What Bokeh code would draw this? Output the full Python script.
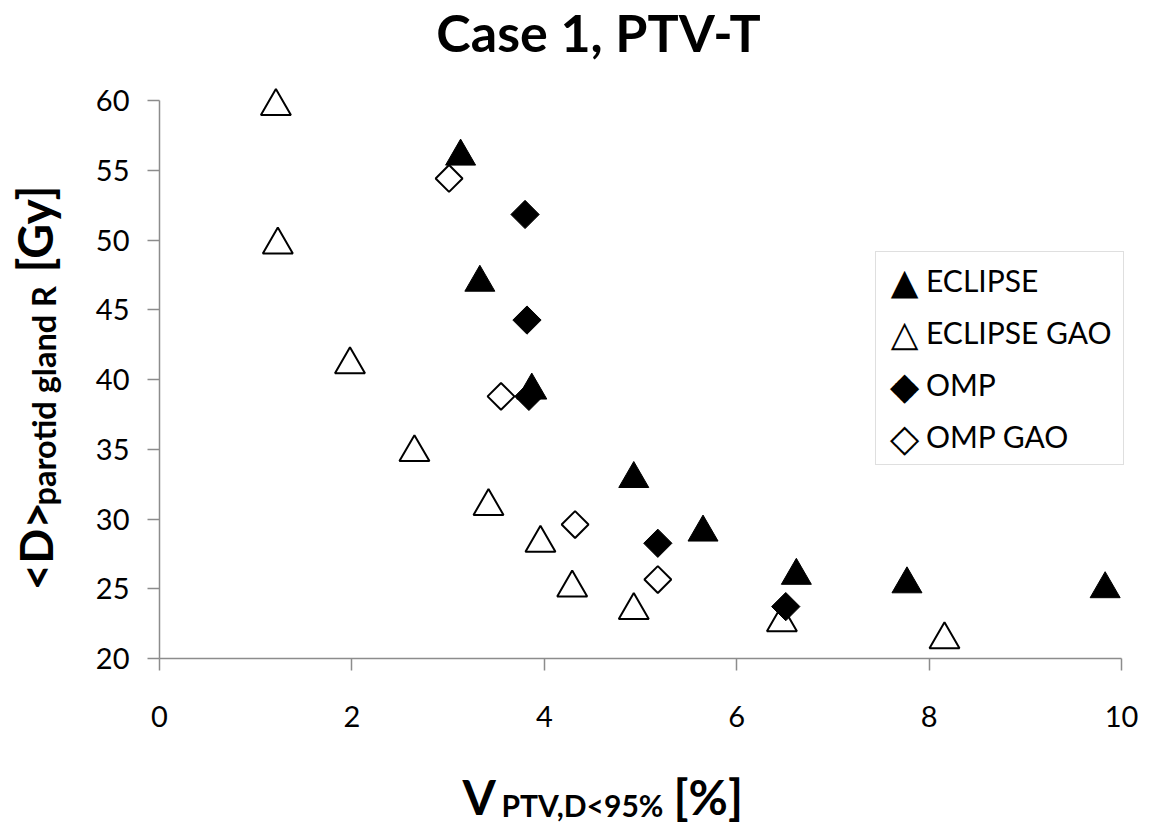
import math
from bokeh.plotting import figure
from bokeh.models import Label, Legend, LegendItem, ColumnDataSource, FixedTicker, Range1d
from bokeh.transform import dodge
from bokeh.embed import file_html
from bokeh.resources import INLINE

# ---- data ----
eclipse_x = [3.13, 3.33, 3.87, 4.93, 5.65, 6.62, 7.77, 9.83]
eclipse_y = [56.3, 47.26, 39.53, 33.19, 29.35, 26.25, 25.64, 25.29]
eclipse_gao_x = [1.21, 1.23, 1.98, 2.65, 3.42, 3.96, 4.29, 4.93, 6.47, 8.16]
eclipse_gao_y = [59.9, 49.96, 41.38, 35.08, 31.22, 28.58, 25.37, 23.76, 22.89, 21.66]
omp_x = [3.80, 3.82, 3.84, 5.18, 6.51]
omp_y = [51.83, 44.26, 38.79, 28.26, 23.72]
omp_gao_x = [3.01, 3.55, 4.32, 5.18]
omp_gao_y = [54.41, 38.79, 29.60, 25.66]

x_ticks = [0, 2, 4, 6, 8, 10]
y_ticks = [20, 25, 30, 35, 40, 45, 50, 55, 60]
series_names = ["ECLIPSE", "ECLIPSE GAO", "OMP", "OMP GAO"]
legend_symbols = ["\u25B2", "\u25B3", "\u25C6", "\u25C7"]

FONT = "Lato"
W, H = 1149, 834
# plot area inside the canvas (pixels): left, right, top, bottom
PL, PR, PT, PB = 159, 1121, 100, 658
XMIN, XMAX, YMIN, YMAX = 0, 10, 20, 60
xs = (PR - PL) / (XMAX - XMIN)
ys = (PB - PT) / (YMAX - YMIN)

p = figure(width=W, height=H, output_backend="svg", toolbar_location=None,
           x_range=Range1d(XMIN - PL / xs, XMAX + (W - PR) / xs),
           y_range=Range1d(YMIN - (H - PB) / ys, YMAX + PT / ys),
           min_border=0, min_border_left=0, min_border_right=0,
           min_border_top=0, min_border_bottom=0)
p.outline_line_color = None
p.xgrid.visible = False
p.ygrid.visible = False
p.background_fill_color = "white"
p.border_fill_color = "white"

xa, ya = p.xaxis[0], p.yaxis[0]
xa.fixed_location = YMIN
ya.fixed_location = XMIN
xa.bounds = (XMIN, XMAX)
ya.bounds = (YMIN, YMAX)
for ax in (xa, ya):
    ax.axis_line_color = "#8c8c8c"
    ax.axis_line_width = 1.5
    ax.major_tick_line_color = "#8c8c8c"
    ax.major_tick_line_width = 1.5
    ax.major_tick_out = 12
    ax.major_tick_in = 0
    ax.minor_tick_line_color = None
    ax.major_label_text_font = FONT
    ax.major_label_text_font_size = "29px"
    ax.major_label_text_color = "black"
xa.ticker = FixedTicker(ticks=x_ticks)
ya.ticker = FixedTicker(ticks=y_ticks)
xa.major_label_standoff = 35
ya.major_label_standoff = 18

# triangles: shift so the bounding box (not the centroid) sits on the value
TRI = 30
tri_shift = -(TRI * math.sqrt(3) / 2 / 6) / ys

src_e = ColumnDataSource(dict(x=eclipse_x, y=eclipse_y))
src_eg = ColumnDataSource(dict(x=eclipse_gao_x, y=eclipse_gao_y))
src_o = ColumnDataSource(dict(x=omp_x, y=omp_y))
src_og = ColumnDataSource(dict(x=omp_gao_x, y=omp_gao_y))

r_e = p.scatter(x="x", y=dodge("y", tri_shift), source=src_e, marker="triangle", size=TRI,
                fill_color="black", line_color="black", line_width=1)
r_eg = p.scatter(x="x", y=dodge("y", tri_shift), source=src_eg, marker="triangle", size=TRI,
                 fill_color="white", line_color="black", line_width=2)
r_o = p.scatter(x="x", y="y", source=src_o, marker="square", angle=math.pi / 4, size=20,
                fill_color="black", line_color="black", line_width=1)
r_og = p.scatter(x="x", y="y", source=src_og, marker="square", angle=math.pi / 4, size=19,
                 fill_color="white", line_color="black", line_width=2)

# legend: box and labels from Legend, swatches drawn as symbol texts
ph = [p.scatter(x=[], y=[], marker="square", fill_alpha=0, line_alpha=0) for _ in series_names]
LEG_L, LEG_T, ROW, PAD, GW = 875, 253, 52, 2, 40
leg = Legend(items=[LegendItem(label=n, renderers=[r]) for n, r in zip(series_names, ph)],
             location=(LEG_L, H - (LEG_T + 2 * PAD + ROW * len(series_names))),
             orientation="vertical",
             glyph_width=GW, glyph_height=ROW, spacing=0, padding=PAD, margin=0,
             label_standoff=8, label_text_font=FONT, label_text_font_size="30px",
             label_height=ROW, label_width=195,
             label_text_color="black", label_text_baseline="middle",
             border_line_color="#bfbfbf", border_line_width=1.5,
             background_fill_alpha=0.0)
p.add_layout(leg, "center")

BL = 0.4  # empirical offset of the rendered alphabetic baseline, in em


def sym(text, cx, cy, fs):
    p.add_layout(Label(text=text, x=cx, y=H - cy, x_units="screen", y_units="screen",
                       text_font="DejaVu Sans", text_font_size=f"{fs}px",
                       text_color="black", text_align="center", text_baseline="middle"))


for i, s in enumerate(legend_symbols):
    sym(s, LEG_L + 29, LEG_T + PAD + ROW * i + ROW / 2, 36 if i < 2 else 38)


# ---- texts ----
def lab(text, x, y, fs, angle=0, align="left"):
    if angle == 0:
        px, py = x, H - (y - BL * fs)
    else:
        px, py = x - BL * fs, H - y
    p.add_layout(Label(text=text, x=px, y=py, x_units="screen", y_units="screen",
                       angle=angle, text_font=FONT, text_font_size=f"{fs}px",
                       text_font_style="bold", text_color="black",
                       text_align=align, text_baseline="alphabetic"))


lab("Case 1, PTV-T", 598, 52, 52, align="center")
lab("V", 462, 815, 48)
lab("PTV,D<95%", 501, 816, 30)
lab("[%]", 673, 815, 48)
lab("<D>", 53, 590, 46, angle=math.pi / 2)
lab("parotid gland R", 56, 505, 32.5, angle=math.pi / 2)
lab("[Gy]", 53, 272, 48, angle=math.pi / 2)

open("out.html", "w").write(file_html(p, INLINE))
